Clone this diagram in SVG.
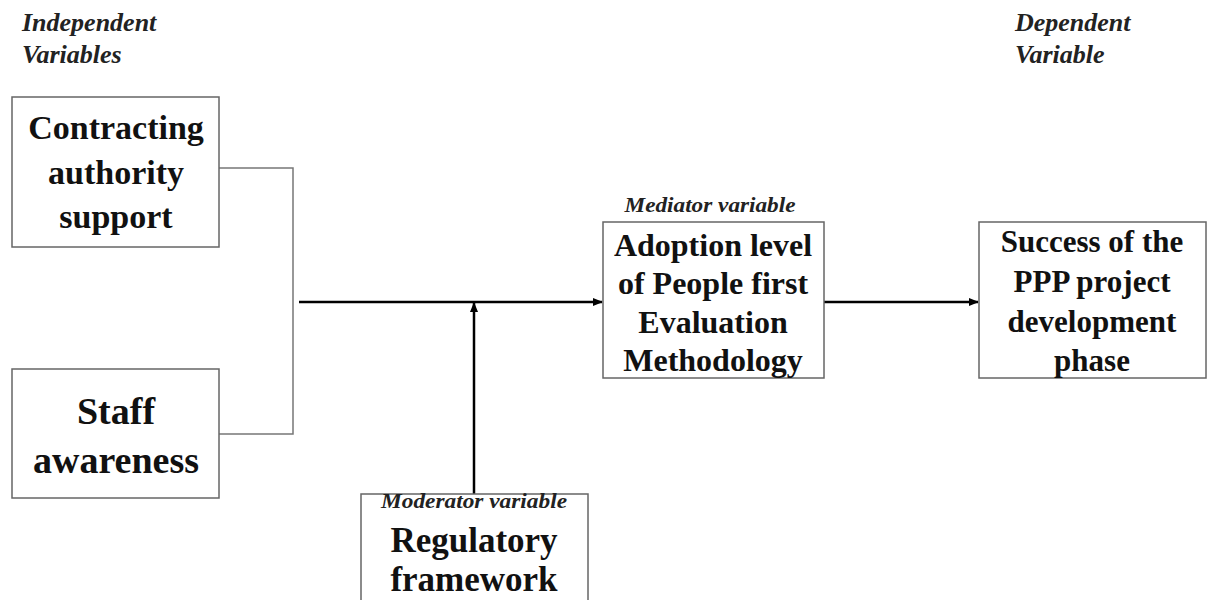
<svg xmlns="http://www.w3.org/2000/svg" width="1207" height="600" viewBox="0 0 1207 600">
<defs>
<marker id="arr" markerWidth="10" markerHeight="8" refX="9" refY="4" orient="auto" markerUnits="userSpaceOnUse">
<path d="M0,0 L10,4 L0,8 Z" fill="#000"/>
</marker>
<style>
.box{fill:#fff;stroke:#666;stroke-width:1.5}
.t{font-family:"Liberation Serif","Times New Roman",serif;font-weight:bold;fill:#111;text-anchor:middle}
.lab{font-family:"Liberation Serif","Times New Roman",serif;font-weight:bold;font-style:italic;fill:#222}
.thin{fill:none;stroke:#777;stroke-width:1.5}
.main{fill:none;stroke:#000;stroke-width:2.5}
</style>
</defs>
<rect width="1207" height="600" fill="#fff"/>
<g id="labels">
<text class="lab" x="22" y="31" font-size="26">Independent</text>
<text class="lab" x="22" y="63" font-size="26">Variables</text>
<text class="lab" x="1015" y="31" font-size="26">Dependent</text>
<text class="lab" x="1015" y="63" font-size="26">Variable</text>
</g>
<g id="connectors">
<polyline class="thin" points="219,168 293,168 293,434 219,434"/>
<line class="main" x1="299" y1="302" x2="602" y2="302" marker-end="url(#arr)"/>
<line class="main" x1="474" y1="494" x2="474" y2="303" marker-end="url(#arr)"/>
<line class="main" x1="824" y1="302" x2="978" y2="302" marker-end="url(#arr)"/>
</g>
<g id="contracting">
<rect class="box" x="12" y="97" width="207" height="150"/>
<text class="t" x="116" y="139" font-size="34">Contracting</text>
<text class="t" x="116" y="184" font-size="34">authority</text>
<text class="t" x="116" y="228" font-size="34">support</text>
</g>
<g id="staff">
<rect class="box" x="12" y="369" width="207" height="129"/>
<text class="t" x="116" y="424" font-size="38">Staff</text>
<text class="t" x="116" y="473" font-size="38">awareness</text>
</g>
<g id="mediator">
<text class="lab" x="710" y="212" font-size="22" text-anchor="middle" textLength="171" lengthAdjust="spacingAndGlyphs">Mediator variable</text>
<rect class="box" x="603" y="222" width="221" height="156"/>
<text class="t" x="713" y="256" font-size="32">Adoption level</text>
<text class="t" x="713" y="294" font-size="32">of People first</text>
<text class="t" x="713" y="333" font-size="32">Evaluation</text>
<text class="t" x="713" y="371" font-size="32">Methodology</text>
</g>
<g id="success">
<rect class="box" x="979" y="222" width="227" height="156"/>
<text class="t" x="1092" y="252" font-size="31">Success of the</text>
<text class="t" x="1092" y="292" font-size="31">PPP project</text>
<text class="t" x="1092" y="332" font-size="31">development</text>
<text class="t" x="1092" y="371" font-size="31">phase</text>
</g>
<g id="moderator">
<rect class="box" x="361" y="494" width="227" height="120"/>
<text class="lab" x="474" y="508" font-size="22" text-anchor="middle" textLength="186" lengthAdjust="spacingAndGlyphs">Moderator variable</text>
<text class="t" x="474" y="552" font-size="35">Regulatory</text>
<text class="t" x="474" y="591" font-size="35">framework</text>
</g>
</svg>
